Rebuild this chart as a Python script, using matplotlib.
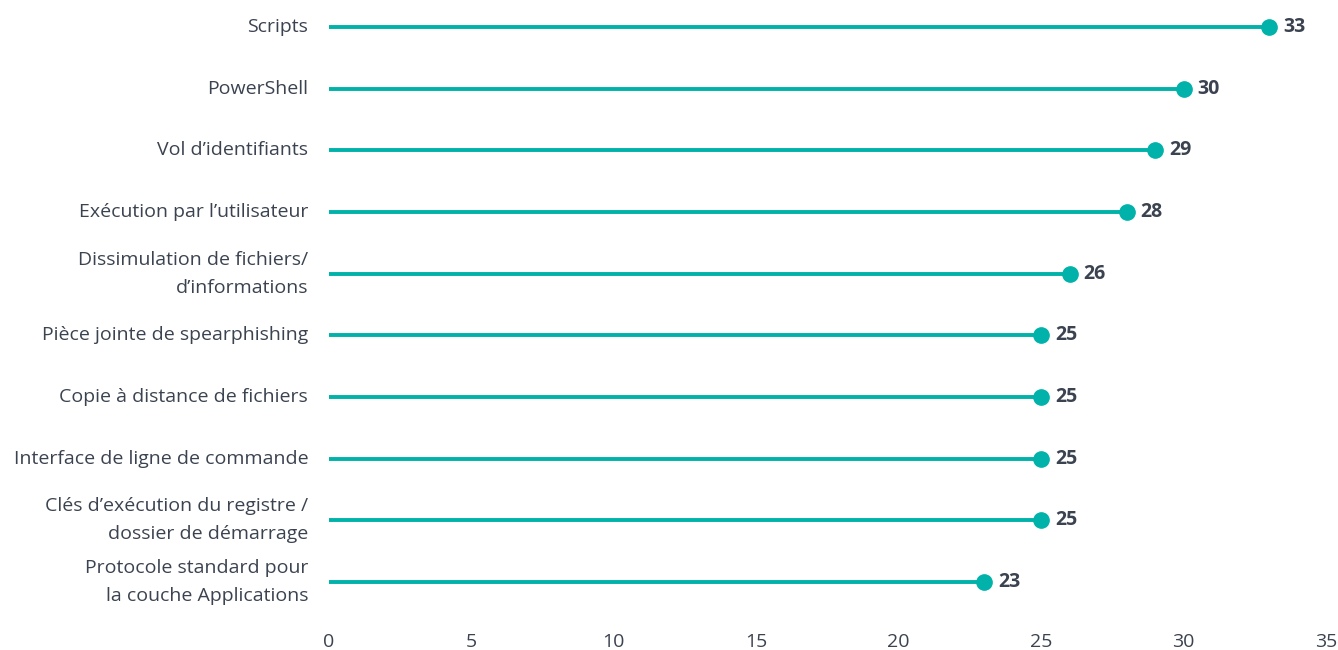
import matplotlib.pyplot as plt

labels = [
    "Scripts",
    "PowerShell",
    "Vol d\u2019identifiants",
    "Exécution par l\u2019utilisateur",
    "Dissimulation de fichiers/\nd\u2019informations",
    "Pièce jointe de spearphishing",
    "Copie à distance de fichiers",
    "Interface de ligne de commande",
    "Clés d\u2019exécution du registre /\ndossier de démarrage",
    "Protocole standard pour\nla couche Applications",
]
values = [33, 30, 29, 28, 26, 25, 25, 25, 25, 23]
xticks = [0, 5, 10, 15, 20, 25, 30, 35]

teal = "#00B2A9"
text_col = "#3B4350"

plt.rcParams['font.family'] = ['Open Sans', 'DejaVu Sans']

fig = plt.figure(figsize=(13.38, 6.5), dpi=100)
ax = fig.add_axes([329 / 1338, 50 / 650, (1326 - 329) / 1338, 590 / 650])

ypos = list(range(len(labels)))
ax.hlines(ypos, 0, values, color=teal, linewidth=2.8)
ax.plot(values, ypos, 'o', color=teal, markersize=11)
for v, y in zip(values, ypos):
    ax.annotate(str(v), (v, y), xytext=(10, 0), textcoords='offset points',
                va='center', ha='left', fontsize=14, fontweight='bold', color=text_col)

ax.set_xlim(0, 35)
ax.set_ylim((600 - 27) / 61.67, (10 - 27) / 61.67)
ax.set_xticks(xticks)
ax.set_yticks(ypos)
ax.set_yticklabels(labels, linespacing=1.7, va='center')
ax.tick_params(axis='both', length=0, labelsize=14, labelcolor=text_col)
ax.tick_params(axis='y', pad=15)
ax.tick_params(axis='x', pad=24)
for s in ax.spines.values():
    s.set_visible(False)

fig.savefig("out.png", dpi=100)
